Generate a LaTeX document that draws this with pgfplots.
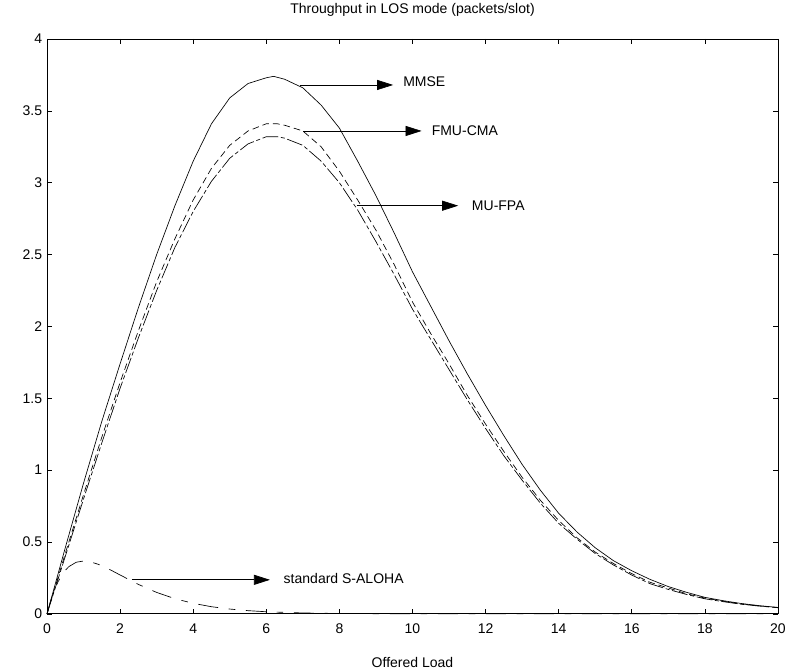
\documentclass[border=0pt]{standalone}
\usepackage{fontspec}
\setmainfont{Liberation Sans}
\usepackage{pgfplots}
\pgfplotsset{compat=1.18}
\usetikzlibrary{arrows.meta}
\begin{document}
\fontsize{10.5}{12}\selectfont
\begin{tikzpicture}
\begin{axis}[
  scale only axis, width=548pt, height=431pt,
  xmin=0, xmax=20, ymin=0, ymax=4,
  xtick={0,2,...,20}, ytick={0,0.5,1,1.5,2,2.5,3,3.5,4},
  tick align=inside, major tick length=4pt,
  axis line style={line width=0.6pt},
  tick style={line width=0.5pt, black},
  /pgf/number format/assume math mode=true,
  yticklabel style={/pgf/number format/fixed, font=\fontsize{10.5}{12}\selectfont},
  xticklabel style={anchor=base, yshift=-15pt, font=\fontsize{10.5}{12}\selectfont},
  title={Throughput in LOS mode (packets/slot)},
  title style={at={(0.5,1)}, anchor=base, yshift=12.75pt, inner sep=0pt},
  xlabel={Offered Load},
  xlabel style={at={(0.5,0)}, anchor=base, yshift=-40.5pt, inner sep=0pt},
  clip=false,
  every axis plot/.append style={line width=0.5pt, black},
]
% MMSE (solid)
\addplot[solid] coordinates {
(0,0) (0.5,0.46) (1,0.91) (1.5,1.34) (2,1.74) (2.5,2.13) (3,2.50) (3.5,2.84)
(4,3.15) (4.5,3.41) (5,3.59) (5.5,3.69) (6,3.73) (6.2,3.74) (6.5,3.72) (7,3.66)
(7.5,3.54) (8,3.38) (8.5,3.15) (9,2.91) (9.5,2.65) (10,2.38) (10.5,2.14) (11,1.90)
(11.5,1.67) (12,1.45) (12.5,1.24) (13,1.04) (13.5,0.86) (14,0.70) (14.5,0.57)
(15,0.46) (15.5,0.37) (16,0.30) (16.5,0.24) (17,0.19) (17.5,0.15) (18,0.115)
(18.5,0.092) (19,0.072) (19.5,0.057) (20,0.045)
};
% FMU-CMA (short dashes)
\addplot[dash pattern=on 5pt off 3pt] coordinates {
(0,0) (0.5,0.42) (1,0.83) (1.5,1.23) (2,1.61) (2.5,1.97) (3,2.31) (3.5,2.61)
(4,2.88) (4.5,3.10) (5,3.26) (5.5,3.36) (6,3.41) (6.3,3.41) (6.5,3.40) (7,3.36)
(7.5,3.25) (8,3.08) (8.5,2.88) (9,2.67) (9.5,2.43) (10,2.17) (10.5,1.95) (11,1.74)
(11.5,1.52) (12,1.32) (12.5,1.13) (13,0.95) (13.5,0.79) (14,0.65) (14.5,0.53)
(15,0.43) (15.5,0.35) (16,0.28) (16.5,0.22) (17,0.18) (17.5,0.14) (18,0.11)
(18.5,0.088) (19,0.07) (19.5,0.055) (20,0.044)
};
% MU-FPA (long dashes)
\addplot[dash pattern=on 12pt off 2pt on 3pt off 2pt] coordinates {
(0,0) (0.5,0.40) (1,0.80) (1.5,1.19) (2,1.57) (2.5,1.92) (3,2.25) (3.5,2.55)
(4,2.80) (4.5,3.01) (5,3.17) (5.5,3.27) (6,3.32) (6.3,3.32) (6.5,3.31) (7,3.26)
(7.5,3.15) (8,3.00) (8.5,2.81) (9,2.59) (9.5,2.36) (10,2.12) (10.5,1.91) (11,1.70)
(11.5,1.49) (12,1.29) (12.5,1.10) (13,0.93) (13.5,0.77) (14,0.63) (14.5,0.52)
(15,0.42) (15.5,0.34) (16,0.27) (16.5,0.21) (17,0.17) (17.5,0.135) (18,0.105)
(18.5,0.085) (19,0.067) (19.5,0.054) (20,0.043)
};
% standard S-ALOHA (dash-dot)
\addplot[dash pattern=on 15pt off 8pt on 5pt off 8pt] coordinates {
(0,0) (0.1,0.0905) (0.2,0.1637) (0.3,0.2222) (0.4,0.2681) (0.5,0.3033)
(0.6,0.3293) (0.8,0.3595) (1.0,0.3679) (1.2,0.3614) (1.4,0.3452) (1.6,0.3230)
(1.8,0.2975) (2.0,0.2707) (2.5,0.2052) (3.0,0.1494) (3.5,0.1057) (4.0,0.0733)
(4.5,0.0500) (5.0,0.0337) (5.5,0.0225) (6.0,0.0149) (7.0,0.0064) (8.0,0.0027)
(9.0,0.0011) (10,0.0005) (12,0.0001) (14,0) (16,0) (18,0) (20,0)
};
% annotations
\draw[line width=0.5pt, -{Triangle[length=12pt,width=7.5pt]}] (axis cs:6.92,3.68) -- (axis cs:9.47,3.68);
\node[anchor=west, inner sep=0pt] at (axis cs:9.74,3.70) {MMSE};
\draw[line width=0.5pt, -{Triangle[length=12pt,width=7.5pt]}] (axis cs:7.01,3.36) -- (axis cs:10.25,3.36);
\node[anchor=west, inner sep=0pt] at (axis cs:10.52,3.36) {FMU-CMA};
\draw[line width=0.5pt, -{Triangle[length=12pt,width=7.5pt]}] (axis cs:8.47,2.84) -- (axis cs:11.25,2.84);
\node[anchor=west, inner sep=0pt] at (axis cs:11.62,2.84) {MU-FPA};
\draw[line width=0.5pt, -{Triangle[length=12pt,width=7.5pt]}] (axis cs:2.32,0.237) -- (axis cs:6.10,0.237);
\node[anchor=west, inner sep=0pt] at (axis cs:6.47,0.243) {standard S-ALOHA};
\path (rel axis cs:-0.0643,-0.1009) rectangle (rel axis cs:1.0178,1.0678);
\end{axis}
\end{tikzpicture}
\end{document}
